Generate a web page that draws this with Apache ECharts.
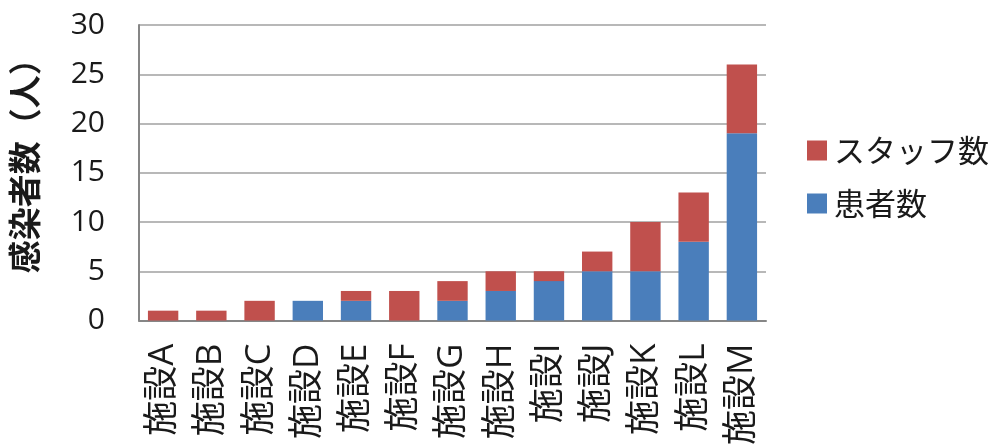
<!DOCTYPE html>
<html>
<head>
<meta charset="utf-8">
<script src="https://cdn.jsdelivr.net/npm/echarts@6/dist/echarts.min.js"></script>
<style>
  html, body { margin: 0; padding: 0; background: #fff; }
  #chart { width: 989px; height: 448px; }
</style>
</head>
<body>
<div id="chart"></div>
<script>
// 施設ごとの感染者数（患者・スタッフ別）
const facilities = ['施設A', '施設B', '施設C', '施設D', '施設E', '施設F', '施設G',
                    '施設H', '施設I', '施設J', '施設K', '施設L', '施設M'];
const patients = [0, 0, 0, 2, 2, 0, 2, 3, 4, 5, 5, 8, 19];
const staff    = [1, 1, 2, 0, 1, 3, 2, 2, 1, 2, 5, 5, 7];
const yTicks = { min: 0, max: 30, interval: 5 };

// Latin glyphs from Open Sans, Japanese glyphs fall back to Noto Sans CJK JP
const FONT = "'Open Sans', 'Noto Sans CJK JP', sans-serif";
const FONT_JP = "'Noto Sans CJK JP', sans-serif";
const TEXT = '#1a1a1a';

const chart = echarts.init(document.getElementById('chart'), null, { renderer: 'canvas' });
chart.setOption({
  animation: false,
  backgroundColor: '#fff',
  grid: { left: 128, right: 223, top: 25, bottom: 124, containLabel: false },
  legend: {
    data: ['スタッフ数', '患者数'],
    orient: 'vertical',
    left: 802,
    top: 130,
    itemWidth: 20,
    itemHeight: 20,
    itemGap: 22,
    icon: 'rect',
    textStyle: { fontFamily: FONT_JP, fontSize: 31, color: TEXT, padding: [0, 0, 0, 2] }
  },
  xAxis: {
    type: 'category',
    data: facilities,
    axisLine: { lineStyle: { color: '#868686', width: 2 } },
    axisTick: { show: false },
    axisLabel: {
      rotate: 90,
      margin: 23,
      fontFamily: FONT,
      fontSize: 35,
      color: TEXT,
      interval: 0
    }
  },
  yAxis: {
    type: 'value',
    min: yTicks.min,
    max: yTicks.max,
    interval: yTicks.interval,
    name: '感染者数（人）',
    nameLocation: 'middle',
    nameGap: 98,
    nameRotate: 90,
    nameTextStyle: {
      fontFamily: FONT_JP, fontSize: 33, fontWeight: 'bold', color: TEXT,
      padding: [0, 0, 0, 30]
    },
    axisLine: { show: true, lineStyle: { color: '#868686', width: 2 } },
    axisTick: { show: false },
    splitLine: { lineStyle: { color: '#a0a0a0', width: 1.5 } },
    axisLabel: { margin: 34, fontFamily: FONT, fontSize: 30, color: TEXT }
  },
  series: [
    {
      name: '患者数',
      type: 'bar',
      stack: 'total',
      data: patients,
      barCategoryGap: '37%',
      itemStyle: { color: '#4a7ebb' }
    },
    {
      name: 'スタッフ数',
      type: 'bar',
      stack: 'total',
      data: staff,
      barCategoryGap: '37%',
      itemStyle: { color: '#c0504d' }
    }
  ]
});
</script>
</body>
</html>
